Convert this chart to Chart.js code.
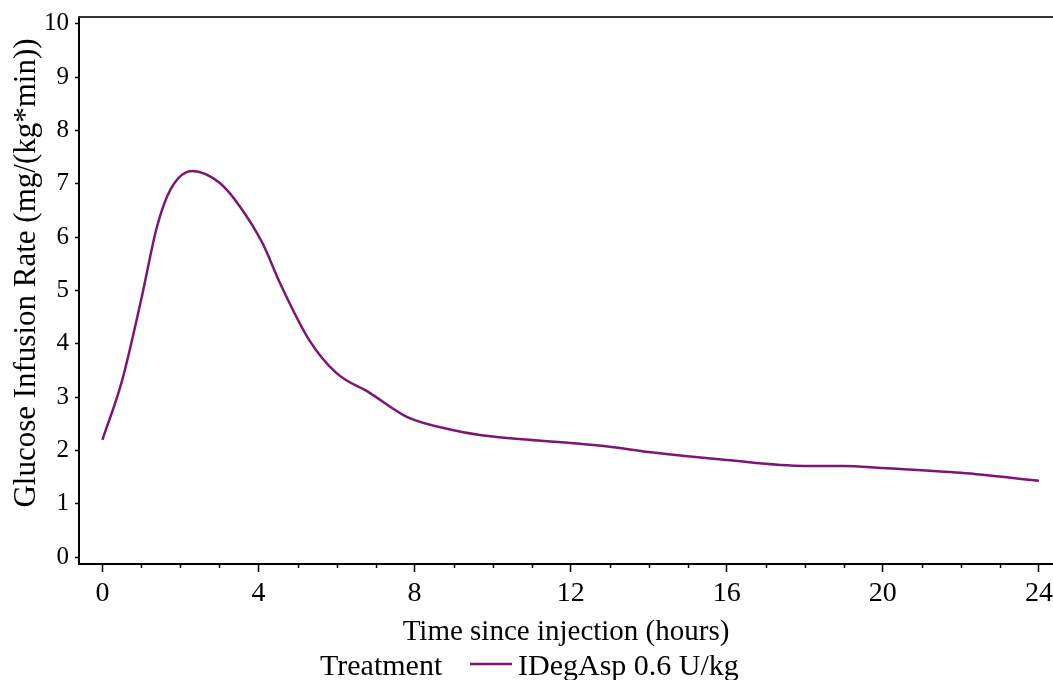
<!DOCTYPE html>
<html>
<head>
<meta charset="utf-8">
<script src="https://cdn.jsdelivr.net/npm/chart.js@4.4.1/dist/chart.umd.min.js"></script>
<style>
  html, body { margin: 0; padding: 0; background: #fff; }
  #wrap { width: 1053px; height: 680px; }
</style>
</head>
<body>
<div id="wrap"><canvas id="girChart" width="1053" height="680"></canvas></div>
<script>
// hours after injection and mean glucose infusion rate
const hours = [0, 0.5, 1, 1.4, 1.75, 2.3, 3, 3.5, 4.1, 4.55, 5.3, 6, 6.85, 7.8, 9, 10, 12, 13, 14, 16, 18, 19, 20, 22, 24];
const girValues = [2.2, 3.3, 4.85, 6.2, 6.9, 7.24, 7.02, 6.6, 5.89, 5.14, 4.07, 3.45, 3.08, 2.63, 2.38, 2.26, 2.14, 2.07, 1.97, 1.82, 1.71, 1.71, 1.67, 1.58, 1.43];
const xTickLabels = [0, 4, 8, 12, 16, 20, 24];
const yTickLabels = [0, 1, 2, 3, 4, 5, 6, 7, 8, 9, 10];
const seriesName = "IDegAsp 0.6 U/kg";
const legendTitle = "Treatment";
const yTitle = "Glucose Infusion Rate (mg/(kg*min))";

const serif = "'Liberation Serif', 'Times New Roman', serif";
const lineColor = "#7c1676";

// minor ticks, top frame line, y title and bottom legend
const extras = {
    id: "extras",
    afterDraw(chart) {
        const ctx = chart.ctx;
        const xs = chart.scales.x;
        const area = chart.chartArea;
        ctx.save();
        ctx.strokeStyle = "#000";
        ctx.lineWidth = 1.5;
        for (let h = 0; h <= 24; h++) {
            if (h % 4 === 0) continue;
            const px = Math.round(xs.getPixelForValue(h)) + 0.5;
            ctx.beginPath();
            ctx.moveTo(px, area.bottom);
            ctx.lineTo(px, area.bottom + 4);
            ctx.stroke();
        }
        ctx.strokeStyle = "#333";
        ctx.lineWidth = 2;
        ctx.beginPath();
        ctx.moveTo(area.left - 1, area.top);
        ctx.lineTo(chart.width, area.top);
        ctx.stroke();

        // y axis title, set a bit above the plot centre as in the original
        ctx.fillStyle = "#000";
        ctx.font = "31px " + serif;
        ctx.textAlign = "center";
        ctx.textBaseline = "middle";
        ctx.translate(27, 273);
        ctx.rotate(-Math.PI / 2);
        ctx.fillText(yTitle, 0, 0);
        ctx.setTransform(1, 0, 0, 1, 0, 0);

        // legend
        const ly = 667;
        ctx.font = "30px " + serif;
        ctx.textAlign = "left";
        ctx.fillText(legendTitle, 320, ly);
        ctx.strokeStyle = chart.data.datasets[0].borderColor;
        ctx.lineWidth = 2.5;
        ctx.beginPath();
        ctx.moveTo(470, ly - 3);
        ctx.lineTo(512, ly - 3);
        ctx.stroke();
        ctx.fillText(chart.data.datasets[0].label, 518, ly);
        ctx.restore();
    }
};

new Chart(document.getElementById("girChart").getContext("2d"), {
    type: "line",
    data: {
        datasets: [{
            label: seriesName,
            data: hours.map((h, i) => ({ x: h, y: girValues[i] })),
            borderColor: lineColor,
            borderWidth: 2.5,
            pointRadius: 0,
            cubicInterpolationMode: "monotone",
            fill: false
        }]
    },
    options: {
        responsive: false,
        animation: false,
        layout: { padding: { top: 17, right: 0, bottom: 30, left: 0 } },
        plugins: { legend: { display: false }, tooltip: { enabled: false } },
        scales: {
            x: {
                type: "linear",
                min: -0.6,
                max: 24.36,
                afterBuildTicks: (s) => { s.ticks = xTickLabels.map(v => ({ value: v })); },
                afterFit: (s) => { s.height = 86; s.paddingLeft = 0; s.paddingRight = 0; },
                grid: { drawOnChartArea: false, tickLength: 8, tickColor: "#000", tickWidth: 1.5 },
                border: { display: true, color: "#000", width: 2 },
                ticks: { color: "#000", font: { family: serif, size: 28 }, padding: 5, maxRotation: 0 },
                title: { display: true, text: "Time since injection (hours)", color: "#000",
                         font: { family: serif, size: 29 }, padding: { top: 0, bottom: 0 } }
            },
            y: {
                type: "linear",
                min: -0.13,
                max: 10.13,
                afterBuildTicks: (s) => { s.ticks = yTickLabels.map(v => ({ value: v })); },
                afterFit: (s) => { s.width = 79; s.paddingTop = 0; s.paddingBottom = 0; },
                grid: { drawOnChartArea: false, tickLength: 4, tickColor: "#000", tickWidth: 1.5 },
                border: { display: true, color: "#000", width: 2 },
                ticks: { color: "#000", font: { family: serif, size: 25 }, padding: 6 }
            }
        }
    },
    plugins: [extras]
});
</script>
</body>
</html>
